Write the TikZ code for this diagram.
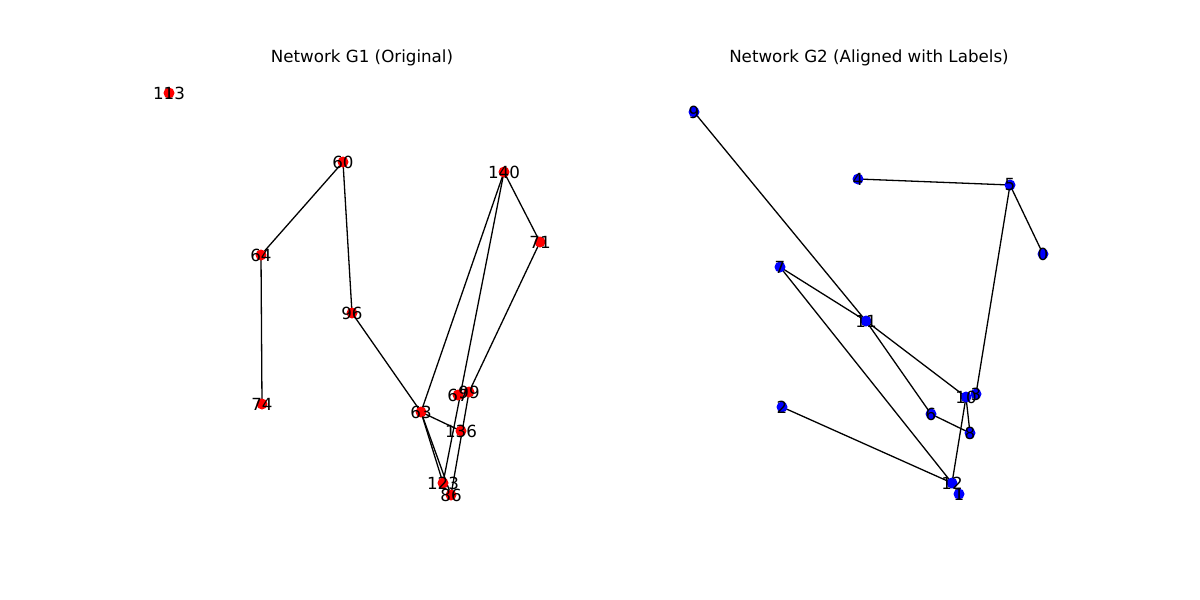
\documentclass[tikz,border=0pt]{standalone}
\usepackage{fontspec}
\setmainfont{DejaVu Sans}
\begin{document}
\begin{tikzpicture}[x=1pt,y=-1pt,
  edge/.style={draw=black,line width=1.3pt},
  rdot/.style={circle,fill=red,inner sep=0pt,minimum size=11pt},
  bdot/.style={circle,fill=blue,inner sep=0pt,minimum size=11pt},
  lab/.style={inner sep=0pt,font=\fontsize{16.7}{20}\selectfont,text=black},
  ttl/.style={inner sep=0pt,font=\fontsize{16.7}{20}\selectfont,text=black}]
\useasboundingbox (0,0) rectangle (1200,600);
% ---- left graph coordinates
\coordinate (a113) at (169,93);
\coordinate (a60) at (343,162);
\coordinate (a140) at (504,172);
\coordinate (a71) at (540,242);
\coordinate (a64) at (261,255);
\coordinate (a96) at (352,313);
\coordinate (a74) at (262,404);
\coordinate (a63) at (421,412);
\coordinate (a67) at (458,395);
\coordinate (a99) at (469,392);
\coordinate (a136) at (461,431);
\coordinate (a123) at (443,483);
\coordinate (a86) at (451,495);
% ---- right graph coordinates
\coordinate (b9) at (694,112);
\coordinate (b4) at (858,179);
\coordinate (b5) at (1010,185);
\coordinate (b0) at (1043,254);
\coordinate (b7) at (780,267);
\coordinate (b11) at (866,321);
\coordinate (b2) at (782,407);
\coordinate (b6) at (931,414);
\coordinate (b10) at (966,397);
\coordinate (b3) at (976,394);
\coordinate (b8) at (970,433);
\coordinate (b12) at (952,483);
\coordinate (b1) at (959,494);
% ---- titles
\node[ttl] (t1) at (362,58) {Network G1 (Original)};
\node[ttl] (t2) at (869,58) {Network G2 (Aligned with Labels)};
% ---- left edges
\draw[edge] (a60) -- (a64);
\draw[edge] (a64) -- (a74);
\draw[edge] (a60) -- (a96);
\draw[edge] (a96) -- (a63);
\draw[edge] (a63) -- (a136);
\draw[edge] (a63) -- (a123);
\draw[edge] (a63) -- (a86);
\draw[edge] (a140) -- (a63);
\draw[edge] (a140) -- (a123);
\draw[edge] (a140) -- (a71);
\draw[edge] (a71) -- (a99);
\draw[edge] (a99) -- (a86);
% ---- right edges
\draw[edge] (b4) -- (b5);
\draw[edge] (b5) -- (b0);
\draw[edge] (b5) -- (b3);
\draw[edge] (b9) -- (b11);
\draw[edge] (b7) -- (b11);
\draw[edge] (b11) -- (b10);
\draw[edge] (b11) -- (b6);
\draw[edge] (b7) -- (b12);
\draw[edge] (b2) -- (b12);
\draw[edge] (b6) -- (b8);
\draw[edge] (b10) -- (b8);
\draw[edge] (b10) -- (b12);
% ---- left dots
\foreach \n in {113,60,140,71,64,96,74,63,67,99,136,123,86}
  \node[rdot] (da\n) at (a\n) {};
% ---- right dots
\foreach \n in {9,4,5,0,7,11,2,6,10,3,8,12,1}
  \node[bdot] (db\n) at (b\n) {};
% ---- left labels
\foreach \n in {113,60,140,71,64,96,74,63,67,99,136,123,86}
  \node[lab] (la\n) at (a\n) {\n};
% ---- right labels
\foreach \n in {9,4,5,0,7,11,2,6,10,3,8,12,1}
  \node[lab] (lb\n) at (b\n) {\n};
\end{tikzpicture}
\end{document}
